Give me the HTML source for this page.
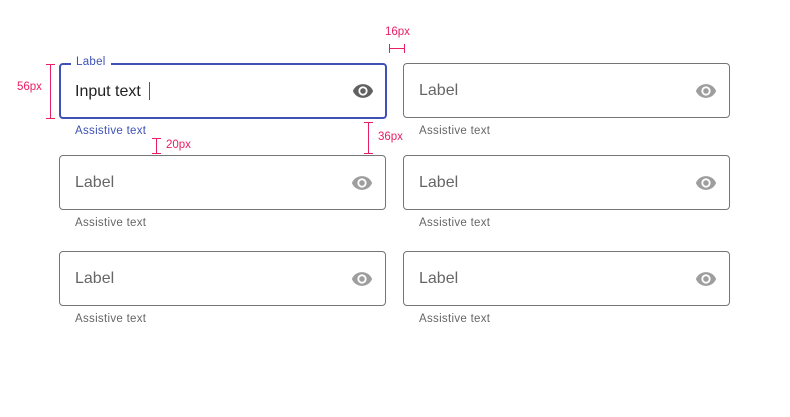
<!DOCTYPE html>
<html><head><meta charset="utf-8"><style>
body{margin:0;width:790px;height:417px;background:#fff;position:relative;overflow:hidden;font-family:"Liberation Sans",sans-serif}
.f{position:absolute;box-sizing:border-box;border:1px solid #757575;border-radius:4px;height:55px;width:327px}
.lab{position:absolute;left:15px;top:18px;font-size:16px;color:#666}
.eye{position:absolute;right:12px;top:16px;width:22px;height:22px;fill:#9e9e9e}
.a{position:absolute;font-size:11.5px;color:#666;letter-spacing:.3px}
.p{position:absolute;background:#e91e63}
.pt{position:absolute;font-size:11.5px;color:#e91e63}
</style></head><body>
<svg width="0" height="0" style="position:absolute"><defs><symbol id="e" viewBox="0 0 24 24"><path d="M12 4.5C7 4.5 2.73 7.610 1 12c1.73 4.39 6 7.5 11 7.5s9.27-3.11 11-7.5c-1.73-4.39-6-7.5-11-7.5zM12 17c-2.76 0-5-2.240-5-5s2.24-5 5-5 5 2.24 5 5-2.24 5-5 5zm0-8c-1.66 0-3 1.34-3 3s1.34 3 3 3 3-1.34 3-3-1.34-3-3-3z"/></symbol></defs></svg>

<div class="f" style="left:59px;top:63px;border:2px solid #3f51b5;height:56px;width:328px">
<div style="position:absolute;left:10px;top:-9px;background:#fff;padding:0 5px;font-size:11.5px;color:#3f51b5;letter-spacing:.3px">Label</div>
<div style="position:absolute;left:14px;top:17px;font-size:16px;color:#222">Input text <span style="display:inline-block;width:1px;height:18px;background:#3f51b5;vertical-align:-4px;margin-left:4px"></span></div>
<svg class="eye" style="fill:#616161;right:11px;top:15px"><use href="#e"/></svg>
</div>
<div class="a" style="left:75px;top:125px;color:#3f51b5">Assistive text</div>

<div class="f" style="left:403px;top:63px"><div class="lab">Label</div><svg class="eye"><use href="#e"/></svg></div>
<div class="a" style="left:419px;top:125px">Assistive text</div>

<div class="f" style="left:59px;top:155px"><div class="lab">Label</div><svg class="eye"><use href="#e"/></svg></div>
<div class="a" style="left:75px;top:217px">Assistive text</div>
<div class="f" style="left:403px;top:155px"><div class="lab">Label</div><svg class="eye"><use href="#e"/></svg></div>
<div class="a" style="left:419px;top:217px">Assistive text</div>

<div class="f" style="left:59px;top:251px"><div class="lab">Label</div><svg class="eye"><use href="#e"/></svg></div>
<div class="a" style="left:75px;top:313px">Assistive text</div>
<div class="f" style="left:403px;top:251px"><div class="lab">Label</div><svg class="eye"><use href="#e"/></svg></div>
<div class="a" style="left:419px;top:313px">Assistive text</div>

<div>
<div class="p" style="left:50px;top:64px;width:1px;height:55px"></div>
<div class="p" style="left:46px;top:64px;width:9px;height:1px"></div>
<div class="p" style="left:46px;top:118px;width:9px;height:1px"></div>
<div class="pt" style="left:17px;top:81px">56px</div>
</div>
<div>
<div class="p" style="left:389px;top:48px;width:16px;height:1px"></div>
<div class="p" style="left:389px;top:44px;width:1px;height:9px"></div>
<div class="p" style="left:404px;top:44px;width:1px;height:9px"></div>
<div class="pt" style="left:385px;top:26px">16px</div>
</div>
<div>
<div class="p" style="left:368px;top:122px;width:1px;height:32px"></div>
<div class="p" style="left:364px;top:122px;width:9px;height:1px"></div>
<div class="p" style="left:364px;top:153px;width:9px;height:1px"></div>
<div class="pt" style="left:378px;top:131px">36px</div>
</div>
<div>
<div class="p" style="left:156px;top:138px;width:1px;height:16px"></div>
<div class="p" style="left:152px;top:138px;width:9px;height:1px"></div>
<div class="p" style="left:152px;top:153px;width:9px;height:1px"></div>
<div class="pt" style="left:166px;top:139px">20px</div>
</div>
</body></html>
